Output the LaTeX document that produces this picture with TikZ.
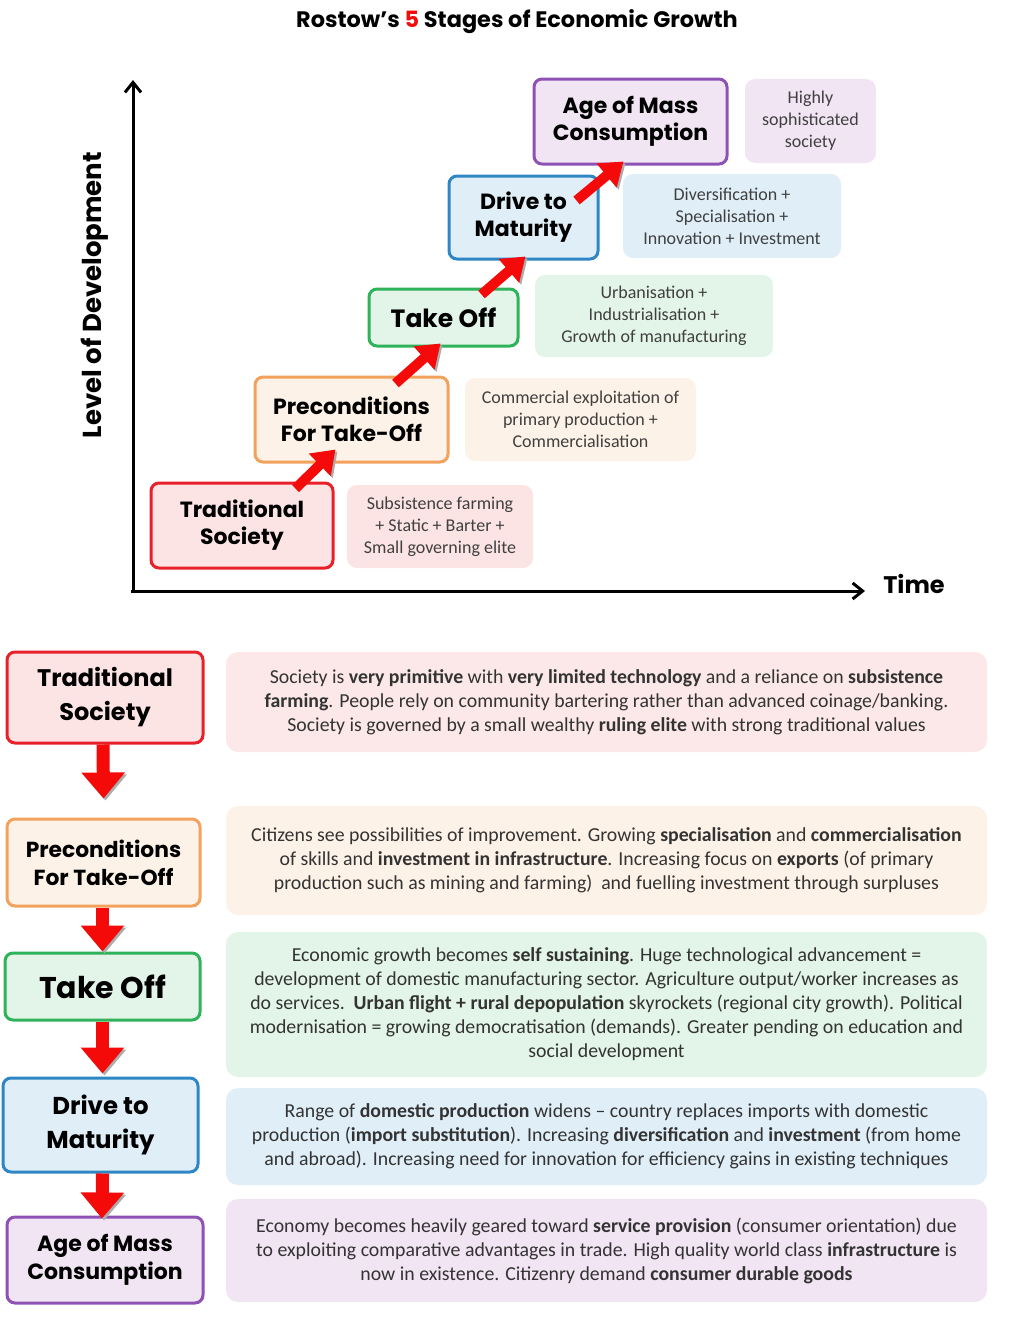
\documentclass[tikz,border=0pt]{standalone}
\usepackage{fontspec}
\setmainfont{Carlito}
\newfontfamily\headfont{Poppins}
\usetikzlibrary{arrows.meta}

\definecolor{tsline}{HTML}{E8202A}
\definecolor{tsfill}{HTML}{FCE4E4}
\definecolor{pcline}{HTML}{F2A25C}
\definecolor{pcfill}{HTML}{FDF2E7}
\definecolor{toline}{HTML}{2EB35A}
\definecolor{tofill}{HTML}{E3F4E8}
\definecolor{dmline}{HTML}{2F86C4}
\definecolor{dmfill}{HTML}{E0EEF8}
\definecolor{amline}{HTML}{8E52B5}
\definecolor{amfill}{HTML}{F1E4F3}
\definecolor{arrowred}{HTML}{F50A0A}

\begin{document}
\begin{tikzpicture}[x=0.5pt, y=-0.5pt,
	stage/.style={rounded corners=4pt, line width=1.5pt, align=center, inner sep=0pt,
		font=\headfont\bfseries\fontsize{11}{13.5}\selectfont},
	bigstage/.style={stage, font=\headfont\bfseries\fontsize{12}{17}\selectfont},
	note/.style={rounded corners=5pt, align=center, inner sep=0pt, text=black!75,
		font=\fontsize{9}{11}\selectfont},
	info/.style={rounded corners=6pt, align=center, inner sep=0pt, text=black!80,
		font=\fontsize{9.9}{12}\selectfont},
	rise/.style={draw=arrowred, line width=5pt, -{Triangle[width=15pt,length=11pt]},
		preaction={draw=gray!65, transform canvas={shift={(2,2)}}}},
	drop/.style={draw=arrowred, line width=6.5pt, -{Triangle[width=21pt,length=13pt]},
		preaction={draw=gray!65, transform canvas={shift={(2,2)}}}}]
	\useasboundingbox (0,0) rectangle (1022,1328);

	% title and axes
	\node (title) at (517, 22) [font=\headfont\bfseries\fontsize{11.2}{13}\selectfont]
		{Rostow’s \textcolor{arrowred}{5} Stages of Economic Growth};
	\coordinate (origin) at (133, 591);
	\coordinate (ytop) at (133, 80);
	\coordinate (xend) at (865, 591);
	\draw [line width=1.5pt, -{Straight Barb[length=5pt,width=8pt]}] ([yshift=-1pt]origin) -- (ytop);
	\draw [line width=1.5pt, -{Straight Barb[length=5pt,width=8pt]}] ([xshift=-1pt]origin) -- (xend);
	\node (ylabel) at (95, 295) [rotate=90, font=\headfont\bfseries\fontsize{13}{15}\selectfont] {Level of Development};
	\node (xlabel) at (914, 584) [font=\headfont\bfseries\fontsize{12}{14}\selectfont] {Time};

	% staircase of stages
	\node (TS1) at (242, 525.5)   [stage, draw=tsline, fill=tsfill, minimum width=91pt, minimum height=42.5pt] {Traditional\\Society};
	\node (PC1) at (351.5, 419.5) [stage, draw=pcline, fill=pcfill, minimum width=96.5pt, minimum height=42.5pt] {Preconditions\\For Take-Off};
	\node (TO1) at (443.5, 317.5) [stage, draw=toline, fill=tofill, minimum width=74.5pt, minimum height=28.5pt,
		font=\headfont\bfseries\fontsize{12.5}{14}\selectfont] {Take Off};
	\node (DM1) at (523.5, 217.5) [stage, draw=dmline, fill=dmfill, minimum width=74.5pt, minimum height=41.5pt] {Drive to\\Maturity};
	\node (AM1) at (630.5, 121.5) [stage, draw=amline, fill=amfill, minimum width=96.5pt, minimum height=42.5pt] {Age of Mass\\Consumption};

	\node (TSn) at (440, 526.5)   [note, fill=tsfill, minimum width=93pt, minimum height=41.5pt] {Subsistence farming\\+ Static + Barter +\\Small governing elite};
	\node (PCn) at (580.5, 419.5) [note, fill=pcfill, minimum width=115.5pt, minimum height=41.5pt] {Commercial exploitation of\\primary production +\\Commercialisation};
	\node (TOn) at (654, 316)     [note, fill=tofill, minimum width=119pt, minimum height=41pt] {Urbanisation +\\Industrialisation +\\Growth of manufacturing};
	\node (DMn) at (732, 216)     [note, fill=dmfill, minimum width=109pt, minimum height=42pt] {Diversification +\\Specialisation +\\Innovation + Investment};
	\node (AMn) at (810.5, 121)   [note, fill=amfill, minimum width=65.5pt, minimum height=42pt] {Highly\\sophisticated\\society};

	\draw [rise] ([shift={(146,7)}]TS1.north west) -- ([shift={(82,-14)}]PC1.south west);
	\draw [rise] ([shift={(142,8)}]PC1.north west) -- ([shift={(73,-4)}]TO1.south west);
	\draw [rise] ([shift={(114,7)}]TO1.north west) -- ([shift={(78,-4)}]DM1.south west);
	\draw [rise] ([shift={(129,26)}]DM1.north west) -- ([shift={(91,-4)}]AM1.south west);

	% stage by stage
	\node (TS2) at (105, 697.5)   [bigstage, draw=tsline, fill=tsfill, minimum width=98pt, minimum height=45.5pt] {Traditional\\Society};
	\node (PC2) at (103.5, 862.5) [stage, draw=pcline, fill=pcfill, minimum width=96.5pt, minimum height=43.5pt,
		font=\headfont\bfseries\fontsize{10.9}{14}\selectfont] {Preconditions\\For Take-Off};
	\node (TO2) at (102.5, 986.5) [bigstage, draw=toline, fill=tofill, minimum width=97.5pt, minimum height=33.5pt,
		font=\headfont\bfseries\fontsize{15}{17}\selectfont] {Take Off};
	\node (DM2) at (100.5, 1125)  [bigstage, draw=dmline, fill=dmfill, minimum width=97.5pt, minimum height=47pt,
		font=\headfont\bfseries\fontsize{12.2}{17}\selectfont] {Drive to\\Maturity};
	\node (AM2) at (105, 1260)    [stage, draw=amline, fill=amfill, minimum width=98pt, minimum height=43pt,
		font=\headfont\bfseries\fontsize{11}{14}\selectfont] {Age of Mass\\Consumption};

	\node (TSi) at (606.5, 702)    [info, fill=tsfill!85, minimum width=380.5pt, minimum height=50pt]
		{Society is \textbf{very primitive} with \textbf{very limited technology} and a reliance on \textbf{subsistence}\\
		\textbf{farming}. People rely on community bartering rather than advanced coinage/banking.\\
		Society is governed by a small wealthy \textbf{ruling elite} with strong traditional values};
	\node (PCi) at (606.5, 860.5)  [info, fill=pcfill, minimum width=380.5pt, minimum height=54.5pt]
		{Citizens see possibilities of improvement. Growing \textbf{specialisation} and \textbf{commercialisation}\\
		of skills and \textbf{investment in infrastructure}. Increasing focus on \textbf{exports} (of primary\\
		production such as mining and farming)\ \ and fuelling investment through surpluses};
	\node (TOi) at (606.5, 1004.5) [info, fill=tofill, minimum width=380.5pt, minimum height=72.5pt]
		{Economic growth becomes \textbf{self sustaining}. Huge technological advancement =\\
		development of domestic manufacturing sector. Agriculture output/worker increases as\\
		do services.\ \ \textbf{Urban flight + rural depopulation} skyrockets (regional city growth). Political\\
		modernisation = growing democratisation (demands). Greater pending on education and\\
		social development};
	\node (DMi) at (606.5, 1136.5) [info, fill=dmfill, minimum width=380.5pt, minimum height=48.5pt]
		{Range of \textbf{domestic production} widens -- country replaces imports with domestic\\
		production (\textbf{import substitution}). Increasing \textbf{diversification} and \textbf{investment} (from home\\
		and abroad). Increasing need for innovation for efficiency gains in existing techniques};
	\node (AMi) at (606.5, 1250.5) [info, fill=amfill, minimum width=380.5pt, minimum height=51.5pt]
		{Economy becomes heavily geared toward \textbf{service provision} (consumer orientation) due\\
		to exploiting comparative advantages in trade. High quality world class \textbf{infrastructure} is\\
		now in existence. Citizenry demand \textbf{consumer durable goods}};

	\draw [drop] ([xshift=-1pt]TS2.south) -- ([shift={(0,-19)}]PC2.north);
	\draw [drop] ([xshift=-0.5pt]PC2.south) -- (TO2.north);
	\draw [drop] (TO2.south) -- ([shift={(2,-3)}]DM2.north);
	\draw [drop] ([xshift=1pt]DM2.south) -- ([shift={(-3,3)}]AM2.north);
\end{tikzpicture}
\end{document}
